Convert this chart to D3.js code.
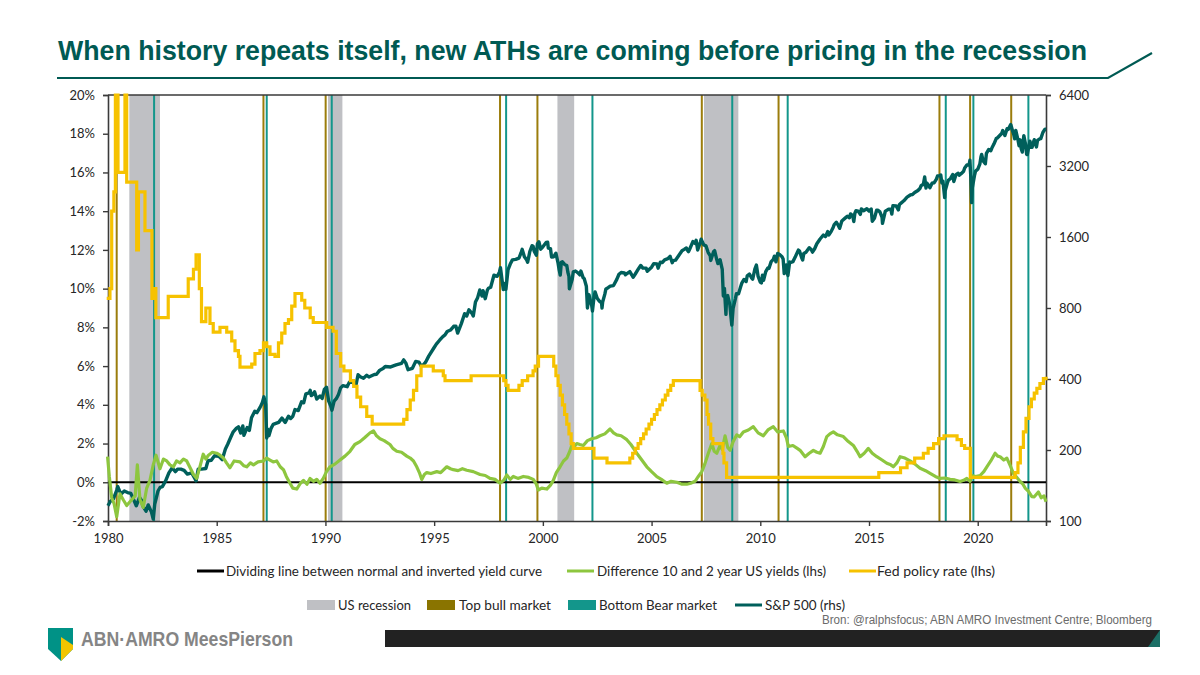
<!DOCTYPE html>
<html>
<head>
<meta charset="utf-8">
<script src="https://cdn.jsdelivr.net/npm/d3@7"></script>
<style>
  html, body { margin: 0; padding: 0; background: #fff; }
  svg { display: block; }
  text { font-family: Lato, "Liberation Sans", sans-serif; }
</style>
</head>
<body>
<svg id="chart" width="1200" height="675"></svg>
<script>
const width = 1200;
const height = 675;
const margin = { top: 95, right: 154, bottom: 154, left: 108 };

const titleText = "When history repeats itself, new ATHs are coming before pricing in the recession";
const sourceText = "Bron: @ralphsfocus; ABN AMRO Investment Centre; Bloomberg";

// tick labels
const xTicks = [1980, 1985, 1990, 1995, 2000, 2005, 2010, 2015, 2020];
const leftTicks = [-2, 0, 2, 4, 6, 8, 10, 12, 14, 16, 18, 20];
const rightTicks = [100, 200, 400, 800, 1600, 3200, 6400];

// US recession periods [start, end] (decimal year as drawn)
const recessions = [[1980.98, 1982.39], [1990.12, 1990.78], [2000.67, 2001.44], [2007.41, 2008.99]];
// vertical markers
const topBull = [1980.4, 1987.15, 1990.01, 1998.03, 1999.75, 2007.31, 2010.84, 2018.24, 2019.65, 2021.54];
const bottomBear = [1982.12, 1987.3, 1990.29, 1998.31, 2002.28, 2008.71, 2011.26, 2018.53, 2019.8, 2022.33];

// Fed policy rate (%), step series [year, rate]
const fedRate = [
  [1979.94, 9.5], [1980.09, 10.0], [1980.17, 14.0], [1980.27, 15.0], [1980.34, 20.0], [1980.46, 16.0],
  [1980.78, 20.0], [1980.86, 15.5], [1981.32, 12.0], [1981.4, 15.0], [1981.7, 13.0], [1982.02, 9.5],
  [1982.12, 10.0], [1982.2, 8.5], [1982.77, 9.6], [1983.69, 10.5], [1983.93, 11.0], [1984.05, 11.75],
  [1984.2, 10.0], [1984.3, 8.3], [1984.5, 9.0], [1984.69, 8.2], [1984.84, 7.75], [1985.15, 8.0],
  [1985.46, 7.75], [1985.69, 7.3], [1985.84, 6.8], [1986.0, 6.5], [1986.07, 5.95], [1986.61, 6.1],
  [1986.76, 6.65], [1986.99, 6.8], [1987.15, 7.2], [1987.3, 7.0], [1987.45, 6.6], [1987.68, 6.5],
  [1987.84, 7.2], [1987.99, 7.7], [1988.14, 8.2], [1988.3, 8.4], [1988.45, 9.1], [1988.6, 9.75],
  [1988.91, 9.4], [1989.05, 9.0], [1989.3, 8.5], [1989.44, 8.25], [1990.06, 8.0], [1990.35, 7.8],
  [1990.5, 6.65], [1990.7, 6.0], [1990.85, 5.75], [1991.15, 5.25], [1991.3, 4.95], [1991.45, 4.4],
  [1991.62, 3.9], [1991.9, 3.4], [1992.15, 3.0], [1993.6, 3.25], [1993.75, 3.75], [1993.9, 4.25],
  [1994.05, 4.75], [1994.2, 5.5], [1994.4, 6.0], [1994.96, 5.75], [1995.42, 5.5], [1995.5, 5.25],
  [1996.7, 5.5], [1998.2, 5.25], [1998.3, 5.0], [1998.4, 4.75], [1998.9, 5.0], [1999.05, 5.25],
  [1999.3, 5.5], [1999.55, 5.75], [1999.65, 6.0], [1999.8, 6.5], [2000.5, 6.0], [2000.6, 5.5],
  [2000.7, 5.0], [2000.8, 4.5], [2000.9, 4.0], [2001.0, 3.5], [2001.1, 3.0], [2001.2, 2.5],
  [2001.3, 2.0], [2001.4, 1.75], [2002.35, 1.25], [2002.95, 1.0], [2004.0, 1.25], [2004.13, 1.5],
  [2004.25, 1.75], [2004.38, 2.0], [2004.5, 2.25], [2004.63, 2.5], [2004.75, 2.75], [2004.88, 3.0],
  [2005.0, 3.25], [2005.13, 3.5], [2005.25, 3.75], [2005.38, 4.0], [2005.5, 4.25], [2005.63, 4.5],
  [2005.75, 4.75], [2005.88, 5.0], [2006.0, 5.25], [2007.23, 4.75], [2007.33, 4.5], [2007.45, 4.25],
  [2007.55, 3.5], [2007.62, 3.0], [2007.72, 2.25], [2007.82, 2.0], [2008.28, 1.5], [2008.33, 1.0],
  [2008.45, 0.25], [2015.45, 0.5], [2016.45, 0.75], [2016.75, 1.0], [2017.1, 1.25], [2017.5, 1.5],
  [2017.72, 1.75], [2017.97, 2.0], [2018.2, 2.25], [2018.45, 2.4], [2019.05, 2.2], [2019.25, 1.9],
  [2019.4, 1.75], [2019.66, 0.25], [2021.72, 0.5], [2021.85, 1.0], [2021.96, 1.8], [2022.1, 2.6],
  [2022.22, 3.3], [2022.36, 3.9], [2022.47, 4.3], [2022.6, 4.6], [2022.72, 4.85], [2022.86, 5.1],
  [2023.02, 5.35], [2023.14, 5.45]
];

// 10y - 2y US yield spread (%)
const yieldSpread = [
  [1979.98, 1.32], [1980.06, 0.3], [1980.17, -0.8], [1980.28, -1.1], [1980.4, -1.78], [1980.55, -0.6],
  [1980.7, -0.9], [1980.86, -1.2], [1981.09, -0.9], [1981.25, -0.7], [1981.35, 0.9], [1981.47, -0.9],
  [1981.62, -1.3], [1981.78, -0.3], [1981.93, 0.1], [1982.08, 0.9], [1982.21, 1.4], [1982.39, 0.7],
  [1982.55, 1.2], [1982.7, 1.1], [1982.85, 0.9], [1983.01, 0.8], [1983.15, 1.1], [1983.31, 1.0],
  [1983.47, 1.2], [1983.62, 1.1], [1983.8, 0.7], [1983.93, 0.4], [1984.08, 0.2], [1984.25, 0.9],
  [1984.38, 1.45], [1984.5, 1.2], [1984.62, 1.4], [1984.8, 1.55], [1985.0, 1.5], [1985.15, 1.4],
  [1985.31, 1.25], [1985.45, 1.0], [1985.61, 0.75], [1985.8, 1.1], [1986.07, 1.05], [1986.25, 0.85],
  [1986.38, 0.8], [1986.55, 1.0], [1986.69, 0.9], [1986.9, 1.05], [1987.15, 1.1], [1987.3, 1.25],
  [1987.45, 1.15], [1987.6, 1.05], [1987.76, 1.1], [1987.92, 0.8], [1988.07, 0.65], [1988.2, 0.3],
  [1988.37, -0.05], [1988.5, -0.3], [1988.68, -0.35], [1988.85, -0.05], [1988.99, 0.1], [1989.15, -0.1],
  [1989.29, 0.2], [1989.45, 0.05], [1989.6, 0.15], [1989.75, -0.05], [1989.9, 0.2], [1990.05, 0.55],
  [1990.21, 0.8], [1990.45, 0.95], [1990.67, 1.15], [1990.9, 1.35], [1991.13, 1.6], [1991.35, 1.95],
  [1991.59, 2.1], [1991.8, 2.3], [1992.05, 2.55], [1992.21, 2.65], [1992.35, 2.4], [1992.51, 2.25],
  [1992.7, 2.15], [1992.97, 1.95], [1993.1, 1.75], [1993.28, 1.6], [1993.5, 1.55], [1993.74, 1.35],
  [1993.9, 1.25], [1994.05, 1.1], [1994.2, 0.8], [1994.32, 0.5], [1994.43, 0.15], [1994.55, 0.4],
  [1994.66, 0.5], [1994.85, 0.45], [1995.12, 0.55], [1995.3, 0.5], [1995.58, 0.8], [1995.75, 0.7],
  [1995.88, 0.65], [1996.1, 0.6], [1996.3, 0.7], [1996.5, 0.62], [1996.8, 0.55], [1997.11, 0.4],
  [1997.35, 0.35], [1997.57, 0.2], [1997.8, 0.15], [1998.03, -0.05], [1998.2, 0.1], [1998.34, 0.38],
  [1998.5, 0.15], [1998.64, 0.3], [1998.85, 0.2], [1999.1, 0.3], [1999.35, 0.25], [1999.56, 0.15],
  [1999.7, -0.1], [1999.79, -0.4], [1999.95, -0.3], [2000.18, -0.35], [2000.35, -0.15], [2000.48, 0.1],
  [2000.62, 0.5], [2000.79, 0.8], [2000.95, 1.1], [2001.1, 1.25], [2001.22, 1.55], [2001.33, 1.9],
  [2001.45, 1.85], [2001.56, 2.0], [2001.7, 1.95], [2001.86, 1.9], [2002.05, 2.15], [2002.25, 2.25],
  [2002.45, 2.3], [2002.63, 2.4], [2002.85, 2.5], [2003.09, 2.75], [2003.25, 2.55], [2003.4, 2.45],
  [2003.6, 2.4], [2003.86, 2.2], [2004.05, 1.95], [2004.32, 1.5], [2004.55, 1.15], [2004.78, 0.8],
  [2005.0, 0.55], [2005.24, 0.29], [2005.45, 0.15], [2005.7, -0.05], [2005.9, 0.05], [2006.16, 0.0],
  [2006.4, -0.1], [2006.62, -0.1], [2006.8, -0.05], [2007.0, 0.05], [2007.15, 0.3], [2007.31, 0.55],
  [2007.45, 0.95], [2007.61, 1.5], [2007.77, 2.0], [2007.88, 1.6], [2008.0, 1.5], [2008.15, 1.9],
  [2008.25, 1.7], [2008.38, 2.4], [2008.5, 1.8], [2008.61, 1.65], [2008.75, 2.1], [2008.92, 2.45],
  [2009.05, 2.35], [2009.22, 2.6], [2009.45, 2.7], [2009.68, 2.87], [2009.9, 2.55], [2010.14, 2.4],
  [2010.35, 2.7], [2010.6, 2.87], [2010.8, 2.6], [2011.06, 2.65], [2011.2, 2.3], [2011.29, 1.85],
  [2011.5, 1.9], [2011.7, 1.75], [2011.83, 1.65], [2012.06, 1.32], [2012.25, 1.5], [2012.44, 1.65],
  [2012.6, 1.55], [2012.75, 1.5], [2012.9, 1.85], [2013.06, 2.36], [2013.2, 2.5], [2013.36, 2.6],
  [2013.55, 2.45], [2013.82, 2.36], [2014.05, 2.1], [2014.28, 1.9], [2014.45, 1.6], [2014.59, 1.32],
  [2014.78, 1.5], [2014.97, 1.75], [2015.15, 1.5], [2015.36, 1.32], [2015.6, 1.15], [2015.82, 0.98],
  [2016.0, 0.9], [2016.12, 0.8], [2016.28, 1.0], [2016.43, 1.32], [2016.65, 1.25], [2016.89, 1.1],
  [2017.1, 0.95], [2017.35, 0.72], [2017.6, 0.6], [2017.81, 0.46], [2018.05, 0.3], [2018.27, 0.2],
  [2018.5, 0.22], [2018.73, 0.15], [2018.95, 0.12], [2019.19, 0.04], [2019.35, 0.1], [2019.5, 0.2],
  [2019.65, 0.05], [2019.73, 0.35], [2019.9, 0.3], [2020.11, 0.35], [2020.28, 0.55], [2020.42, 0.8],
  [2020.6, 1.1], [2020.8, 1.5], [2020.92, 1.35], [2021.03, 1.32], [2021.2, 1.15], [2021.34, 1.25],
  [2021.5, 0.85], [2021.64, 0.46], [2021.8, 0.25], [2021.95, 0.04], [2022.08, -0.1], [2022.18, -0.3],
  [2022.32, -0.45], [2022.49, -0.74], [2022.6, -0.75], [2022.79, -0.5], [2022.92, -0.8], [2023.05, -0.7],
  [2023.14, -1.0]
];

// S&P 500 index level [year, level]
const sp500 = [
  [1980.0, 116], [1980.1, 121], [1980.25, 124], [1980.4, 135], [1980.45, 140], [1980.55, 133],
  [1980.6, 130], [1980.75, 134], [1980.9, 132], [1981.05, 131], [1981.2, 122], [1981.3, 116],
  [1981.45, 126], [1981.55, 122], [1981.6, 116], [1981.75, 110], [1981.85, 117], [1982.0, 109],
  [1982.08, 102], [1982.15, 118], [1982.3, 134], [1982.4, 139], [1982.5, 140], [1982.65, 148],
  [1982.8, 160], [1982.95, 168], [1983.1, 162], [1983.2, 166], [1983.35, 166], [1983.5, 164],
  [1983.65, 158], [1983.85, 160], [1984.0, 151], [1984.05, 148], [1984.15, 166], [1984.3, 166],
  [1984.5, 167], [1984.6, 180], [1984.75, 181], [1984.9, 189], [1985.1, 188], [1985.25, 182],
  [1985.4, 202], [1985.5, 211], [1985.65, 227], [1985.75, 238], [1985.9, 247], [1986.0, 251],
  [1986.1, 236], [1986.2, 253], [1986.25, 231], [1986.4, 249], [1986.5, 242], [1986.6, 274],
  [1986.75, 292], [1986.85, 288], [1987.0, 304], [1987.1, 318], [1987.17, 336], [1987.25, 312],
  [1987.3, 225], [1987.35, 245], [1987.4, 230], [1987.5, 247], [1987.6, 257], [1987.75, 260],
  [1987.85, 262], [1988.0, 273], [1988.15, 262], [1988.3, 278], [1988.4, 272], [1988.5, 278],
  [1988.6, 297], [1988.75, 294], [1988.9, 320], [1989.0, 317], [1989.1, 346], [1989.25, 349],
  [1989.3, 358], [1989.35, 340], [1989.45, 346], [1989.5, 353], [1989.6, 329], [1989.75, 339],
  [1989.85, 331], [1989.95, 361], [1990.05, 369], [1990.15, 322], [1990.25, 306], [1990.3, 295],
  [1990.4, 322], [1990.5, 330], [1990.6, 344], [1990.7, 367], [1990.8, 375], [1991.0, 371],
  [1991.1, 388], [1991.25, 387], [1991.4, 375], [1991.5, 417], [1991.6, 409], [1991.75, 403],
  [1991.9, 415], [1992.0, 408], [1992.15, 414], [1992.25, 418], [1992.35, 419], [1992.5, 436],
  [1992.65, 443], [1992.75, 452], [1993.0, 450], [1993.25, 459], [1993.5, 466], [1993.6, 482],
  [1993.7, 467], [1993.8, 438], [1994.0, 444], [1994.15, 475], [1994.3, 472], [1994.4, 454],
  [1994.5, 459], [1994.6, 470], [1994.75, 500], [1995.0, 544], [1995.1, 562], [1995.25, 584],
  [1995.4, 605], [1995.5, 615], [1995.6, 636], [1995.75, 645], [1995.9, 669], [1996.0, 670],
  [1996.08, 626], [1996.25, 687], [1996.4, 757], [1996.5, 740], [1996.6, 786], [1996.75, 757],
  [1996.8, 740], [1996.9, 848], [1997.0, 885], [1997.1, 954], [1997.2, 899], [1997.25, 947],
  [1997.35, 876], [1997.45, 955], [1997.5, 970], [1997.6, 980], [1997.75, 1102], [1997.9, 1090],
  [1998.0, 1134], [1998.05, 1186], [1998.18, 957], [1998.25, 1017], [1998.3, 960], [1998.4, 1164],
  [1998.5, 1229], [1998.6, 1280], [1998.75, 1286], [1998.9, 1302], [1999.0, 1373], [1999.05, 1418],
  [1999.15, 1320], [1999.25, 1282], [1999.3, 1250], [1999.4, 1389], [1999.5, 1469], [1999.55, 1465],
  [1999.6, 1394], [1999.7, 1340], [1999.75, 1498], [1999.82, 1527], [1999.9, 1420], [2000.0, 1454],
  [2000.15, 1517], [2000.22, 1520], [2000.25, 1436], [2000.35, 1429], [2000.4, 1315], [2000.5, 1320],
  [2000.6, 1366], [2000.7, 1240], [2000.75, 1160], [2000.8, 1103], [2000.85, 1249], [2000.9, 1256],
  [2001.0, 1224], [2001.1, 1211], [2001.15, 1134], [2001.2, 1090], [2001.22, 965], [2001.35, 1060],
  [2001.4, 1139], [2001.5, 1148], [2001.6, 1130], [2001.7, 1106], [2001.75, 1147], [2001.85, 1076],
  [2001.9, 1067], [2002.0, 990], [2002.05, 800], [2002.12, 912], [2002.25, 815], [2002.28, 777],
  [2002.35, 885], [2002.4, 936], [2002.5, 880], [2002.6, 855], [2002.7, 841], [2002.72, 800],
  [2002.75, 848], [2002.85, 916], [2002.9, 964], [2003.0, 975], [2003.1, 990], [2003.25, 996],
  [2003.4, 1058], [2003.5, 1112], [2003.6, 1131], [2003.75, 1126], [2003.8, 1107], [2004.0, 1141],
  [2004.1, 1101], [2004.15, 1080], [2004.25, 1115], [2004.4, 1174], [2004.5, 1212], [2004.6, 1181],
  [2004.75, 1181], [2004.8, 1145], [2005.0, 1191], [2005.1, 1234], [2005.25, 1229], [2005.3, 1180],
  [2005.4, 1250], [2005.5, 1248], [2005.6, 1280], [2005.75, 1295], [2005.85, 1325], [2005.95, 1245],
  [2006.0, 1270], [2006.1, 1276], [2006.25, 1336], [2006.4, 1400], [2006.5, 1418], [2006.6, 1438],
  [2006.65, 1407], [2006.7, 1387], [2006.75, 1420], [2006.9, 1530], [2007.0, 1503], [2007.05, 1550],
  [2007.12, 1410], [2007.25, 1527], [2007.28, 1565], [2007.4, 1481], [2007.5, 1468], [2007.6, 1378],
  [2007.7, 1330], [2007.72, 1273], [2007.85, 1385], [2007.9, 1400], [2008.0, 1280], [2008.05, 1234],
  [2008.15, 1282], [2008.25, 1166], [2008.3, 900], [2008.35, 968], [2008.42, 752], [2008.45, 896],
  [2008.5, 903], [2008.6, 826], [2008.65, 735], [2008.69, 677], [2008.75, 798], [2008.85, 873],
  [2008.9, 919], [2009.0, 919], [2009.1, 987], [2009.15, 1020], [2009.25, 1057], [2009.35, 1036],
  [2009.4, 1096], [2009.5, 1115], [2009.6, 1074], [2009.65, 1060], [2009.75, 1169], [2009.82, 1217],
  [2009.9, 1089], [2010.0, 1030], [2010.05, 1022], [2010.1, 1101], [2010.15, 1049], [2010.25, 1141],
  [2010.35, 1183], [2010.4, 1180], [2010.5, 1258], [2010.6, 1286], [2010.65, 1327], [2010.72, 1256],
  [2010.8, 1363], [2010.9, 1345], [2011.0, 1320], [2011.05, 1292], [2011.1, 1120], [2011.2, 1219],
  [2011.25, 1131], [2011.27, 1099], [2011.35, 1253], [2011.4, 1247], [2011.5, 1258], [2011.6, 1312],
  [2011.75, 1408], [2011.8, 1398], [2011.9, 1310], [2011.95, 1278], [2012.0, 1362], [2012.1, 1379],
  [2012.25, 1441], [2012.35, 1412], [2012.4, 1380], [2012.5, 1426], [2012.6, 1498], [2012.75, 1569],
  [2012.9, 1631], [2013.0, 1606], [2013.1, 1686], [2013.15, 1633], [2013.25, 1682], [2013.35, 1757],
  [2013.4, 1806], [2013.5, 1848], [2013.6, 1782], [2013.65, 1741], [2013.75, 1872], [2013.9, 1924],
  [2014.0, 1960], [2014.1, 1931], [2014.15, 2003], [2014.25, 1972], [2014.3, 1862], [2014.35, 2018],
  [2014.4, 2068], [2014.5, 2059], [2014.6, 1995], [2014.65, 2105], [2014.75, 2068], [2014.9, 2107],
  [2015.0, 2063], [2015.1, 2104], [2015.15, 1867], [2015.25, 1920], [2015.35, 2079], [2015.4, 2080],
  [2015.5, 2044], [2015.6, 1940], [2015.62, 1829], [2015.75, 2060], [2015.9, 2097], [2016.0, 2099],
  [2016.05, 2000], [2016.1, 2174], [2016.25, 2168], [2016.35, 2085], [2016.4, 2199], [2016.5, 2239],
  [2016.6, 2279], [2016.75, 2363], [2016.9, 2412], [2017.0, 2423], [2017.1, 2470], [2017.25, 2519],
  [2017.35, 2575], [2017.4, 2647], [2017.5, 2674], [2017.56, 2873], [2017.62, 2581], [2017.65, 2714],
  [2017.75, 2641], [2017.8, 2588], [2017.9, 2705], [2018.0, 2718], [2018.1, 2816], [2018.15, 2902],
  [2018.25, 2914], [2018.3, 2930], [2018.35, 2711], [2018.4, 2760], [2018.48, 2351], [2018.5, 2506],
  [2018.6, 2704], [2018.65, 2784], [2018.75, 2834], [2018.85, 2946], [2018.9, 2752], [2019.0, 2942],
  [2019.1, 2980], [2019.15, 2926], [2019.25, 2977], [2019.35, 3038], [2019.4, 3141], [2019.5, 3231],
  [2019.6, 3226], [2019.64, 3386], [2019.68, 2900], [2019.72, 2237], [2019.75, 2585], [2019.85, 2912],
  [2019.9, 3044], [2020.0, 3100], [2020.1, 3271], [2020.15, 3500], [2020.18, 3580], [2020.25, 3363],
  [2020.35, 3270], [2020.4, 3622], [2020.5, 3756], [2020.6, 3714], [2020.65, 3811], [2020.75, 3973],
  [2020.85, 4181], [2020.9, 4204], [2021.0, 4298], [2021.1, 4395], [2021.15, 4523], [2021.25, 4308],
  [2021.35, 4605], [2021.4, 4567], [2021.5, 4766], [2021.52, 4796], [2021.6, 4516], [2021.65, 4374],
  [2021.7, 4170], [2021.75, 4530], [2021.85, 4132], [2021.9, 3900], [2021.95, 4132], [2022.0, 3785],
  [2022.05, 3667], [2022.1, 4130], [2022.12, 4305], [2022.2, 3955], [2022.25, 3586], [2022.28, 3577],
  [2022.35, 3872], [2022.4, 4080], [2022.45, 3839], [2022.5, 3840], [2022.55, 4017], [2022.6, 4136],
  [2022.65, 3970], [2022.7, 3855], [2022.75, 4109], [2022.85, 4169], [2022.9, 4180], [2023.0, 4450],
  [2023.1, 4588], [2023.14, 4580]
];

const colors = {
  title: "#005a53",
  sp500: "#005f5b",
  spread: "#8dc63f",
  fed: "#f6c200",
  recession: "#bfc0c4",
  bull: "#9b7d0c",
  bullBox: "#8a7400",
  bear: "#13968b",
  axis: "#3a3a3a",
  label: "#262626"
};

const svg = d3.select("#chart");

const x = d3.scaleLinear().domain([1980, 2023.14]).range([margin.left, width - margin.right]);
const yLeft = d3.scaleLinear().domain([-2, 20]).range([height - margin.bottom, margin.top]);
const yRight = d3.scaleLog().base(2).domain([100, 6400]).range([height - margin.bottom, margin.top]);

const plotTop = margin.top;
const plotBottom = height - margin.bottom;

// ---- title ----
svg.append("text")
  .attr("x", 58)
  .attr("y", 59.5)
  .attr("textLength", 1029)
  .attr("lengthAdjust", "spacingAndGlyphs")
  .style("font-family", "'Liberation Sans', Arial, sans-serif")
  .style("font-weight", "bold")
  .style("font-size", "27.5px")
  .style("fill", colors.title)
  .text(titleText);

svg.append("path")
  .attr("d", "M57,78 L1108,78 L1152,53")
  .attr("fill", "none")
  .attr("stroke", colors.title)
  .attr("stroke-width", 2.2);

// ---- recessions ----
svg.append("g").selectAll("rect")
  .data(recessions)
  .enter()
  .append("rect")
  .attr("x", d => x(d[0]))
  .attr("y", plotTop)
  .attr("width", d => x(d[1]) - x(d[0]))
  .attr("height", plotBottom - plotTop)
  .style("fill", colors.recession);

// ---- vertical markers ----
svg.append("g").selectAll("line")
  .data(topBull)
  .enter()
  .append("line")
  .attr("x1", d => x(d))
  .attr("x2", d => x(d))
  .attr("y1", plotTop)
  .attr("y2", plotBottom)
  .style("stroke", colors.bull)
  .style("stroke-width", 2);

svg.append("g").selectAll("line")
  .data(bottomBear)
  .enter()
  .append("line")
  .attr("x1", d => x(d))
  .attr("x2", d => x(d))
  .attr("y1", plotTop)
  .attr("y2", plotBottom)
  .style("stroke", colors.bear)
  .style("stroke-width", 2);

// ---- axes ----
const leftAxis = svg.append("g")
  .attr("transform", `translate(${margin.left},0)`)
  .call(d3.axisLeft(yLeft).tickValues(leftTicks).tickSize(5).tickFormat(d => d + "%"));

const rightAxis = svg.append("g")
  .attr("transform", `translate(${width - margin.right},0)`)
  .call(d3.axisRight(yRight).tickValues(rightTicks).tickSize(5).tickFormat(d3.format("d")));

const bottomAxis = svg.append("g")
  .attr("transform", `translate(0,${plotBottom})`)
  .call(d3.axisBottom(x).tickValues(xTicks).tickSize(5).tickFormat(d3.format("d")));

[leftAxis, rightAxis, bottomAxis].forEach(g => {
  g.select(".domain").attr("stroke", colors.axis).attr("stroke-width", 1.6);
  g.selectAll(".tick line").attr("stroke", colors.axis).attr("stroke-width", 1.4);
  g.selectAll(".tick text")
    .style("font-family", "Lato, sans-serif")
    .style("font-size", "13px")
    .style("fill", colors.label);
});
leftAxis.selectAll(".tick text").attr("x", -13);
rightAxis.selectAll(".tick text").attr("x", 13);
bottomAxis.selectAll(".tick text").attr("y", 13);

// top border of plot area
svg.append("line")
  .attr("x1", margin.left)
  .attr("x2", width - margin.right)
  .attr("y1", plotTop)
  .attr("y2", plotTop)
  .style("stroke", colors.axis)
  .style("stroke-width", 1.6);

// ---- dividing line (0%) ----
svg.append("line")
  .attr("x1", margin.left)
  .attr("x2", width - margin.right)
  .attr("y1", yLeft(0))
  .attr("y2", yLeft(0))
  .style("stroke", "#000")
  .style("stroke-width", 2.2);

// ---- series ----
const spLine = d3.line().x(d => x(d[0])).y(d => yRight(d[1]));
const lhsLine = d3.line().x(d => x(d[0])).y(d => yLeft(d[1]));
const fedLine = d3.line().x(d => x(d[0])).y(d => yLeft(d[1])).curve(d3.curveStepAfter);

svg.append("path")
  .datum(sp500)
  .attr("d", spLine)
  .style("fill", "none")
  .style("stroke", colors.sp500)
  .style("stroke-width", 3.4)
  .style("stroke-linejoin", "round");

svg.append("path")
  .datum(yieldSpread)
  .attr("d", lhsLine)
  .style("fill", "none")
  .style("stroke", colors.spread)
  .style("stroke-width", 3.2)
  .style("stroke-linejoin", "round");

svg.append("path")
  .datum(fedRate)
  .attr("d", fedLine)
  .style("fill", "none")
  .style("stroke", colors.fed)
  .style("stroke-width", 3.2);

// ---- legend ----
const legendItems = [
  { label: "Dividing line between normal and inverted yield curve", type: "line", color: "#000", sx: 197, tx: 226, tw: 316, row: 0 },
  { label: "Difference 10 and 2 year US yields (lhs)", type: "line", color: colors.spread, sx: 567, tx: 597, tw: 229, row: 0 },
  { label: "Fed policy rate (lhs)", type: "line", color: colors.fed, sx: 849, tx: 877, tw: 118, row: 0 },
  { label: "US recession", type: "box", color: colors.recession, sx: 307, tx: 338, tw: 73, row: 1 },
  { label: "Top bull market", type: "box", color: colors.bullBox, sx: 427, tx: 459, tw: 92, row: 1 },
  { label: "Bottom Bear market", type: "box", color: colors.bear, sx: 568, tx: 599, tw: 118, row: 1 },
  { label: "S&P 500 (rhs)", type: "line", color: colors.sp500, sx: 735, tx: 765, tw: 80, row: 1 }
];
const rowY = [571, 605];

const legend = svg.append("g");
legendItems.forEach(item => {
  const cy = rowY[item.row];
  if (item.type === "line") {
    legend.append("line")
      .attr("x1", item.sx).attr("x2", item.sx + 27)
      .attr("y1", cy).attr("y2", cy)
      .style("stroke", item.color)
      .style("stroke-width", 3);
  } else {
    legend.append("rect")
      .attr("x", item.sx).attr("y", cy - 5)
      .attr("width", 28).attr("height", 10)
      .style("fill", item.color);
  }
  legend.append("text")
    .attr("x", item.tx)
    .attr("y", cy)
    .attr("dy", "0.35em")
    .attr("textLength", item.tw)
    .attr("lengthAdjust", "spacingAndGlyphs")
    .style("font-size", "14px")
    .style("fill", colors.label)
    .text(item.label);
});

// ---- source ----
svg.append("text")
  .attr("x", 1152)
  .attr("y", 624)
  .attr("text-anchor", "end")
  .attr("textLength", 330)
  .attr("lengthAdjust", "spacingAndGlyphs")
  .style("font-family", "'Liberation Sans', Arial, sans-serif")
  .style("font-size", "12px")
  .style("fill", "#6b6b6b")
  .text(sourceText);

// ---- footer bar ----
svg.append("path")
  .attr("d", "M385,630 L1160,630 L1160,647 L385,647 Z")
  .style("fill", "#222");
svg.append("path")
  .attr("d", "M1160,630 L1160,647 L1148,647 Z")
  .style("fill", "#1c6f66");

// ---- logo ----
svg.append("path")
  .attr("d", "M48,628 L73,628 L73,649 L61,661 L48,649 Z")
  .style("fill", "#009286");
svg.append("path")
  .attr("d", "M61,637 L73,645 L73,649 L61,661 Z")
  .style("fill", "#f2c500");
svg.append("text")
  .attr("x", 81)
  .attr("y", 646)
  .attr("textLength", 212)
  .attr("lengthAdjust", "spacingAndGlyphs")
  .style("font-family", "'Liberation Sans', Arial, sans-serif")
  .style("font-weight", "bold")
  .style("font-size", "21px")
  .style("fill", "#858585")
  .text("ABN·AMRO MeesPierson");
</script>
</body>
</html>
